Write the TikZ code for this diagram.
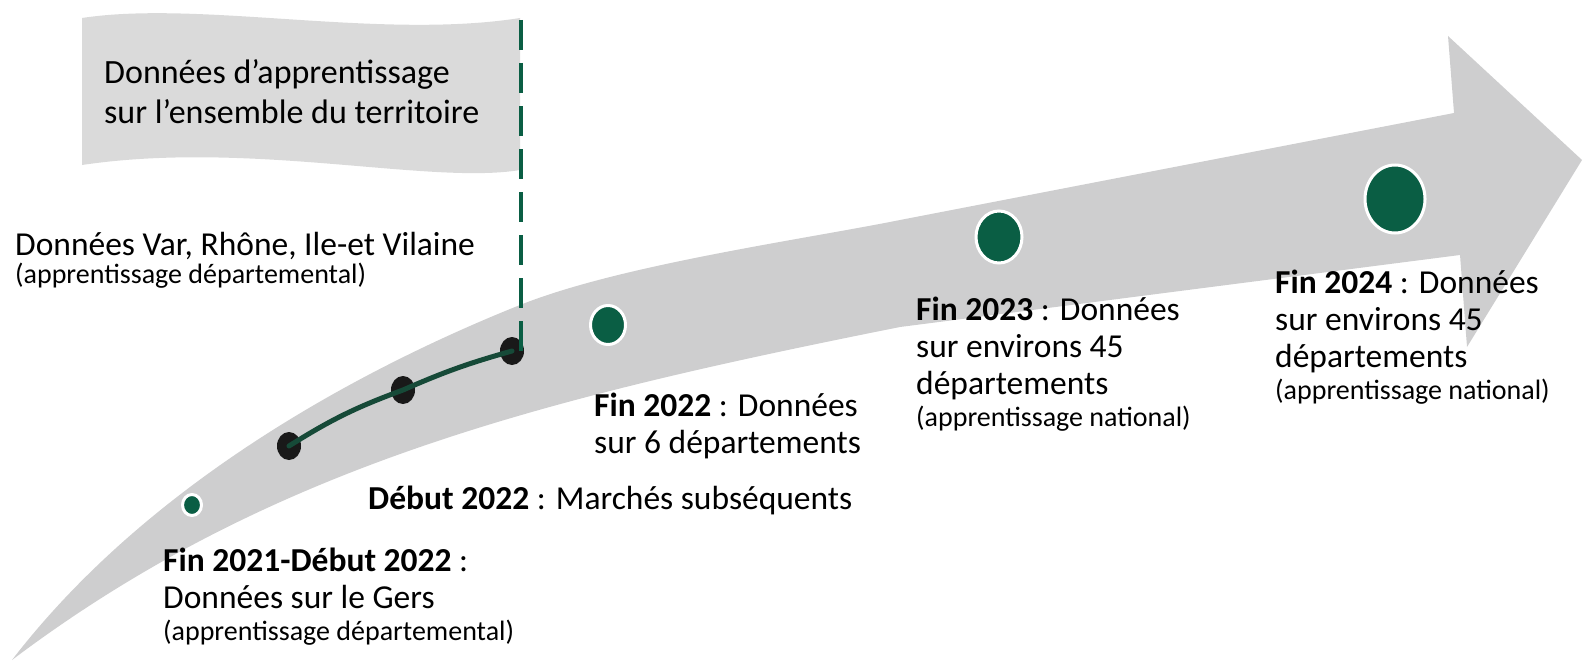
\documentclass[tikz,border=0pt]{standalone}
\usepackage{fontspec}
\setmainfont{Carlito}
\usetikzlibrary{positioning,shapes.geometric}

\definecolor{bandgray}{RGB}{206,206,207}
\definecolor{flaggray}{RGB}{218,218,218}
\definecolor{dotgreen}{RGB}{10,94,68}
\definecolor{linegreen}{RGB}{22,74,56}

\tikzset{
	txt/.style={anchor=base west, align=left, inner sep=0pt, font=\fontsize{33.5}{37}\selectfont},
	sub/.style={anchor=base west, align=left, inner sep=0pt, font=\fontsize{28}{32}\selectfont},
	dot/.style={ellipse, fill=dotgreen, draw=white, line width=3pt, inner sep=0pt},
	knot/.style={ellipse, fill=black!90, inner sep=0pt, minimum width=24pt, minimum height=28pt}
}

\begin{document}
\begin{tikzpicture}[x=1pt, y=-1pt, node distance=32pt]
	\useasboundingbox (0,0) rectangle (1586,661);

	\fill[flaggray] (82,18) .. controls (200,0) and (380,40) .. (520,18) -- (520,170) .. controls (430,185) and (250,140) .. (82,165) -- cycle;
	\fill[bandgray] (12,660) .. controls (152,478) and (370,365) .. (520,305) .. controls (620,265) and (800,240) .. (900,220)
		-- (1454,113) -- (1448,36) -- (1582,160) -- (1467,347) -- (1460,255) -- (900,327)
		.. controls (550,397) and (272,464) .. (12,660) -- cycle;

	\node[txt, font=\fontsize{34}{40}\selectfont] (Terr) at (104,123) {Données d’apprentissage\\sur l’ensemble du territoire};
	\node[txt] (Var) at (15,255) {Données Var, Rhône, Ile-et Vilaine};
	\node(VarN) [below=28pt of Var.base west, sub] {(apprentissage départemental)};

	\node[txt] (F21) at (163,608) {\textbf{Fin 2021-Début 2022} :\\Données sur le Gers};
	\node(F21N) [below=of F21.base west, sub] {(apprentissage départemental)};
	\node[txt] (D22) at (368,509) {\textbf{Début 2022} : Marchés subséquents};
	\node[txt] (F22) at (594,453) {\textbf{Fin 2022} : Données\\sur 6 départements};
	\node[txt] (F23) at (916,394) {\textbf{Fin 2023} : Données\\sur environs 45\\départements};
	\node(F23N) [below=of F23.base west, sub] {(apprentissage national)};
	\node[txt] (F24) at (1275,367) {\textbf{Fin 2024} : Données\\sur environs 45\\départements};
	\node(F24N) [below=of F24.base west, sub] {(apprentissage national)};

	\node[dot, minimum width=19pt, minimum height=21pt] (G21) at (192,505) {};
	\node[dot, minimum width=35pt, minimum height=39pt] (G22) at (608,325) {};
	\node[dot, minimum width=46pt, minimum height=52pt] (G23) at (999,237) {};
	\node[dot, minimum width=60pt, minimum height=68pt] (G24) at (1395,199) {};

	\node[knot] (K1) at (289,446) {};
	\node[knot] (K2) at (403,390) {};
	\node[knot] (K3) at (512,351) {};
	\coordinate (Cut) at (521,20);

	\draw[dotgreen, line width=4pt, dash pattern=on 30pt off 13pt] (Cut) -- (Cut |- K3.east);
	\draw[linegreen, line width=5pt, line cap=round] (K1.center) to[bend left=6] (K2.center) to[bend left=4] (K3.center);
\end{tikzpicture}
\end{document}
